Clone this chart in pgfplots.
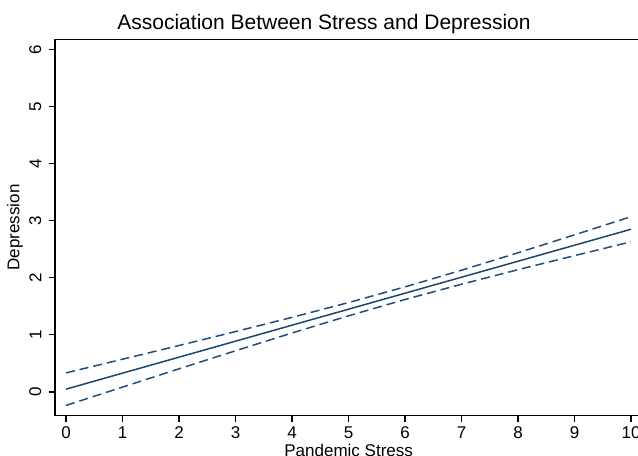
\documentclass[border=0pt]{standalone}
\usepackage{pgfplots}
\pgfplotsset{compat=1.18}
\usepackage{fontspec}
\setmainfont{Liberation Sans}
\definecolor{stnavy}{RGB}{26,71,111}
\definecolor{stnavyd}{RGB}{32,78,124}
\pgfplotstableread{
x    c     lo      hi
0    0.05  -0.235  0.335
1    0.33   0.086  0.574
2    0.61   0.406  0.814
3    0.89   0.722  1.058
4    1.17   1.033  1.307
5    1.45   1.334  1.566
6    1.73   1.620  1.841
7    2.01   1.887  2.133
8    2.29   2.142  2.438
9    2.57   2.388  2.752
10   2.85   2.630  3.070
}\fitdata
\begin{document}
\begin{tikzpicture}
\useasboundingbox (0,0) rectangle (638bp,456bp);
\begin{axis}[
  at={(55bp,40.3bp)}, anchor=south west,
  scale only axis, width=587.3bp, height=376.6bp,
  xmin=-0.195, xmax=10.2, ymin=-0.415, ymax=6.18,
  axis line style={line width=1.1bp, black},
  xtick={0,1,...,10}, ytick={0,1,...,6},
  xtick pos=bottom, ytick pos=left,
  tick align=outside, major tick length=6.5bp,
  tick style={line width=1.1bp, black},
  /pgf/number format/assume math mode=true,
  ticklabel style={font=\fontsize{17bp}{20bp}\selectfont},
  xticklabel style={anchor=north, inner sep=0pt, yshift=-4bp},
  yticklabel style={rotate=90, anchor=south, inner sep=0pt, yshift=7bp},
  label style={font=\fontsize{17bp}{20bp}\selectfont},
  xlabel={Pandemic Stress},
  xlabel style={at={(axis description cs:0.5,0)}, anchor=base, inner sep=0pt, yshift=-40.5bp},
  ylabel={Depression},
  ylabel style={at={(axis description cs:-0.0681,0.5)}, anchor=center, inner sep=0pt},
  clip=false,
]
\addplot[stnavy, line width=1.5bp] table[x=x, y=c] {\fitdata};
\addplot[stnavyd, line width=1.5bp, dash pattern=on 9bp off 5bp] table[x=x, y=hi] {\fitdata};
\addplot[stnavyd, line width=1.5bp, dash pattern=on 9bp off 5bp] table[x=x, y=lo] {\fitdata};
\end{axis}
\node[anchor=base, inner sep=0pt, font=\fontsize{21bp}{25bp}\selectfont] at (324bp,426bp) {Association Between Stress and Depression};
\end{tikzpicture}
\end{document}
